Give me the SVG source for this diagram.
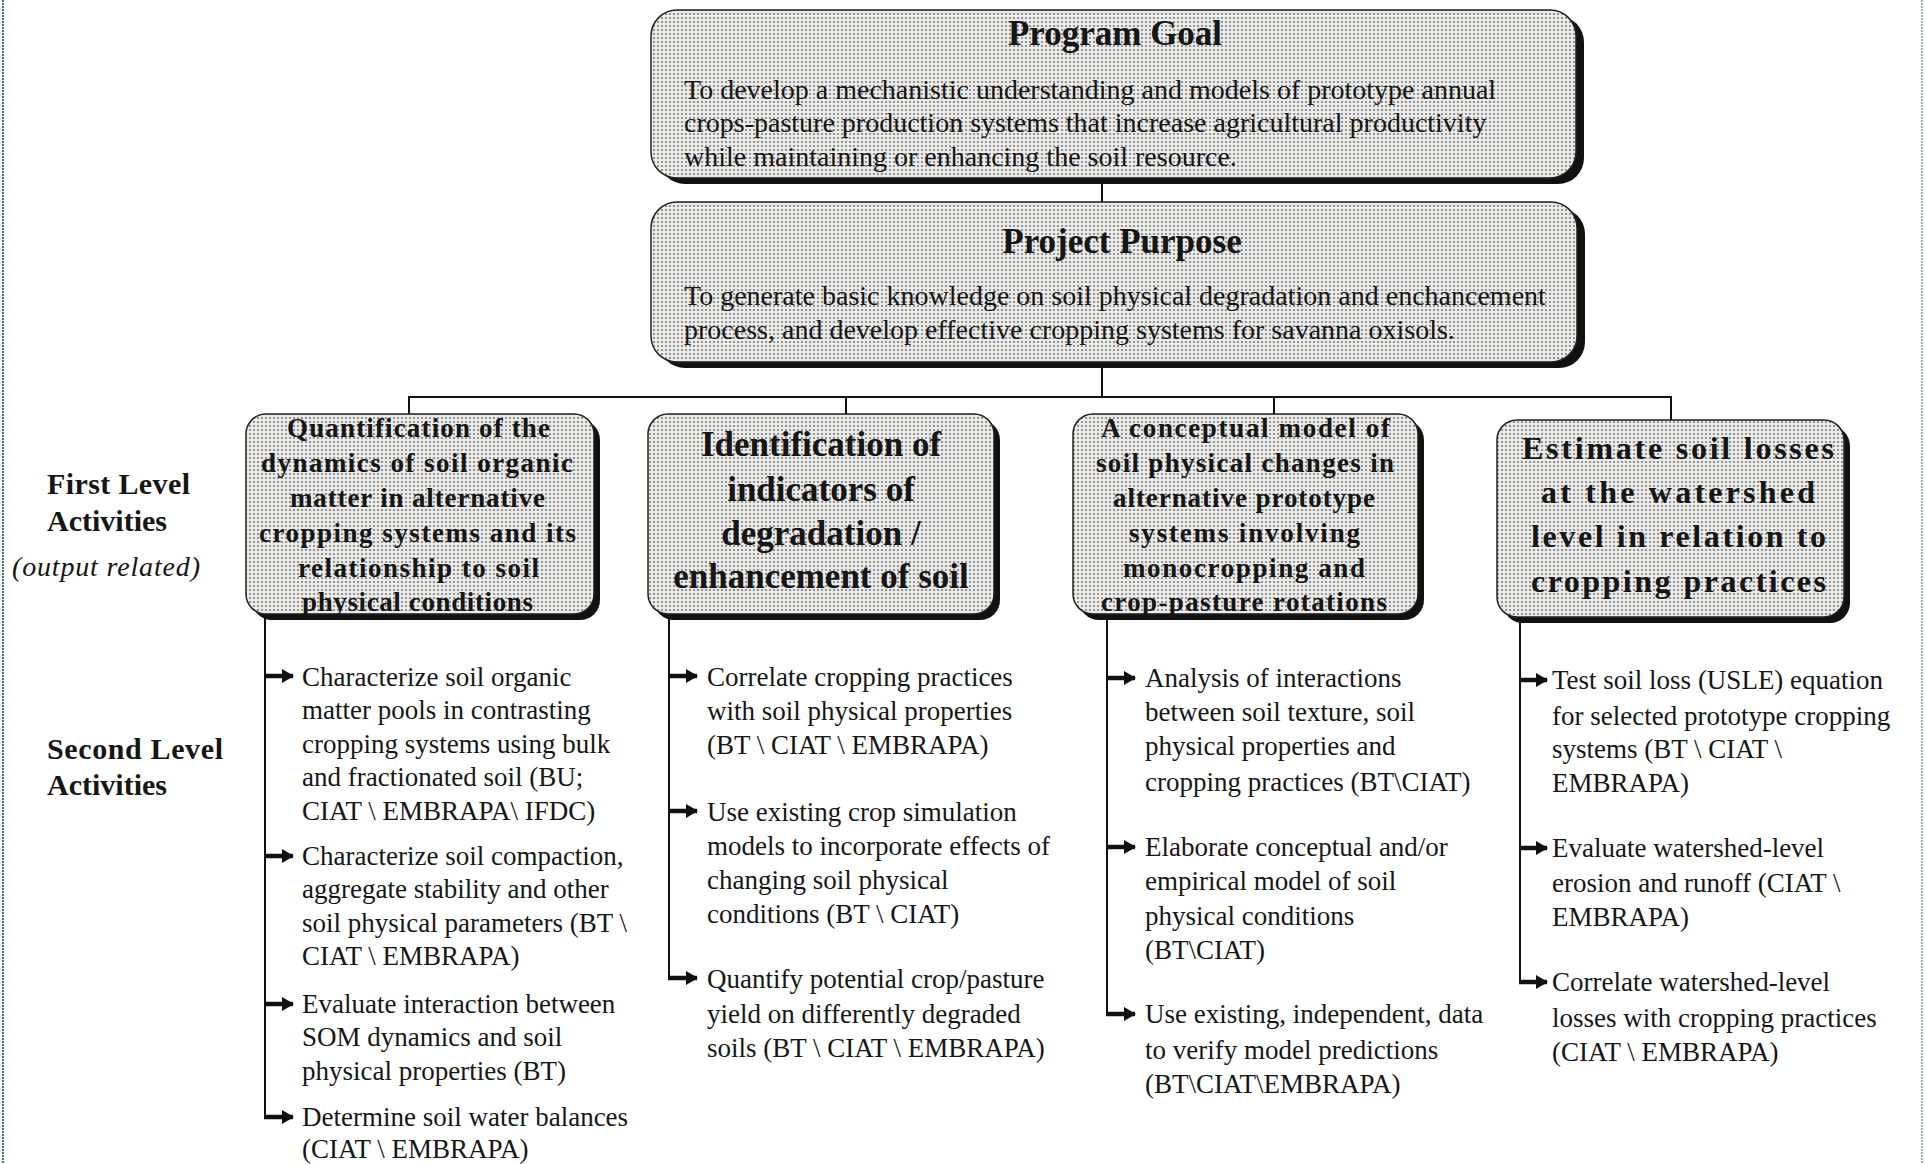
<svg xmlns="http://www.w3.org/2000/svg" width="1925" height="1164" viewBox="0 0 1925 1164">
<defs>
<pattern id="dots" width="4" height="4" patternUnits="userSpaceOnUse">
<rect width="4" height="4" fill="#ebebe9"/>
<circle cx="2" cy="2" r="1.1" fill="#808080"/>
</pattern>
<marker id="arr" viewBox="0 0 12 14" refX="11" refY="7" markerWidth="12" markerHeight="14" markerUnits="userSpaceOnUse" orient="auto">
<path d="M0,0 L12,7 L0,14 Z" fill="#111"/>
</marker>
</defs>
<style>
.shadow{fill:#111}
.box{fill:url(#dots);stroke:#222;stroke-width:1.5}
.t{font-family:"Liberation Serif","Times New Roman",serif;fill:#161616}
.title{font-size:35px;font-weight:bold}
.body{font-size:28px}
.fl{font-size:27px;font-weight:bold}
.big{font-size:35px;font-weight:bold}
.big4{font-size:32px;font-weight:bold}
.lab{font-size:30px;font-weight:bold}
.labi{font-size:28px;font-style:italic}
.item{font-size:27px}
.line{stroke:#111;stroke-width:2;fill:none}
.arr{stroke:#111;stroke-width:4.5;fill:none}
.edge{stroke:#3d7a5c;stroke-width:2;stroke-dasharray:2 1;fill:none}
</style>
<rect width="1925" height="1164" fill="#ffffff"/>
<line class="edge" x1="3" y1="0" x2="3" y2="1164"/>
<line class="edge" x1="1922" y1="0" x2="1922" y2="1164" stroke-opacity="0.5"/>

<g id="connectors">
<line class="line" x1="1102" y1="178" x2="1102" y2="203"/>
<line class="line" x1="1102" y1="362" x2="1102" y2="397"/>
<line class="line" x1="409" y1="397" x2="1671" y2="397"/>
<line class="line" x1="409" y1="396" x2="409" y2="415"/>
<line class="line" x1="846" y1="396" x2="846" y2="415"/>
<line class="line" x1="1274" y1="396" x2="1274" y2="415"/>
<line class="line" x1="1671" y1="396" x2="1671" y2="421"/>
<line class="line" x1="265" y1="614" x2="265" y2="1118"/>
<line class="line" x1="669" y1="614" x2="669" y2="979"/>
<line class="line" x1="1107" y1="614" x2="1107" y2="1015"/>
<line class="line" x1="1520" y1="618" x2="1520" y2="983"/>
<g>
<line class="arr" x1="264" y1="676" x2="293" y2="676" marker-end="url(#arr)"/>
<line class="arr" x1="264" y1="856" x2="293" y2="856" marker-end="url(#arr)"/>
<line class="arr" x1="264" y1="1004" x2="293" y2="1004" marker-end="url(#arr)"/>
<line class="arr" x1="264" y1="1117" x2="293" y2="1117" marker-end="url(#arr)"/>
<line class="arr" x1="668" y1="676" x2="697" y2="676" marker-end="url(#arr)"/>
<line class="arr" x1="668" y1="811" x2="697" y2="811" marker-end="url(#arr)"/>
<line class="arr" x1="668" y1="978" x2="697" y2="978" marker-end="url(#arr)"/>
<line class="arr" x1="1106" y1="678" x2="1135" y2="678" marker-end="url(#arr)"/>
<line class="arr" x1="1106" y1="847" x2="1135" y2="847" marker-end="url(#arr)"/>
<line class="arr" x1="1106" y1="1014" x2="1135" y2="1014" marker-end="url(#arr)"/>
<line class="arr" x1="1519" y1="680" x2="1547" y2="680" marker-end="url(#arr)"/>
<line class="arr" x1="1519" y1="848" x2="1547" y2="848" marker-end="url(#arr)"/>
<line class="arr" x1="1519" y1="982" x2="1547" y2="982" marker-end="url(#arr)"/>
</g>
</g>

<g id="program-goal">
<rect class="shadow" x="659" y="16" width="925" height="168" rx="26"/>
<rect class="box" x="651" y="10" width="925" height="168" rx="26"/>
<text class="t title" x="1115" y="45" text-anchor="middle">Program Goal</text>
<text class="t body" x="684" y="99">To develop a mechanistic understanding and models of prototype annual</text>
<text class="t body" x="684" y="132">crops-pasture production systems that increase agricultural productivity</text>
<text class="t body" x="684" y="166">while maintaining or enhancing the soil resource.</text>
</g>

<g id="project-purpose">
<rect class="shadow" x="659" y="208" width="926" height="160" rx="26"/>
<rect class="box" x="651" y="202" width="926" height="160" rx="26"/>
<text class="t title" x="1122" y="253" text-anchor="middle">Project Purpose</text>
<text class="t body" x="684" y="305">To generate basic knowledge on soil physical degradation and enchancement</text>
<text class="t body" x="684" y="339">process, and develop effective cropping systems for savanna oxisols.</text>
</g>

<g id="label-first-level">
<text class="t lab" x="47" y="494" textLength="143" lengthAdjust="spacing">First Level</text>
<text class="t lab" x="47" y="531">Activities</text>
<text class="t labi" x="12" y="576" textLength="188" lengthAdjust="spacing">(output related)</text>
</g>

<g id="label-second-level">
<text class="t lab" x="47" y="759" textLength="176" lengthAdjust="spacing">Second Level</text>
<text class="t lab" x="47" y="795">Activities</text>
</g>

<g id="activity-1">
<rect class="shadow" x="252" y="420" width="348" height="200" rx="20"/>
<rect class="box" x="246" y="414" width="348" height="200" rx="20"/>
<text class="t fl" x="287" y="437" textLength="263" lengthAdjust="spacing">Quantification of the</text>
<text class="t fl" x="261" y="472" textLength="312" lengthAdjust="spacing">dynamics of soil organic</text>
<text class="t fl" x="290" y="507" textLength="255" lengthAdjust="spacing">matter in alternative</text>
<text class="t fl" x="259" y="542" textLength="317" lengthAdjust="spacing">cropping systems and its</text>
<text class="t fl" x="298" y="577" textLength="241" lengthAdjust="spacing">relationship to soil</text>
<text class="t fl" x="302" y="611" textLength="231" lengthAdjust="spacing">physical conditions</text>
</g>

<g id="activity-2">
<rect class="shadow" x="654" y="420" width="346" height="200" rx="20"/>
<rect class="box" x="648" y="414" width="346" height="200" rx="20"/>
<text class="t big" x="821" y="456" text-anchor="middle">Identification of</text>
<text class="t big" x="821" y="501" text-anchor="middle">indicators of</text>
<text class="t big" x="821" y="545" text-anchor="middle">degradation /</text>
<text class="t big" x="821" y="588" text-anchor="middle">enhancement of soil</text>
</g>

<g id="activity-3">
<rect class="shadow" x="1079" y="420" width="345" height="200" rx="20"/>
<rect class="box" x="1073" y="414" width="345" height="200" rx="20"/>
<text class="t fl" x="1101" y="437" textLength="289" lengthAdjust="spacing">A conceptual model of</text>
<text class="t fl" x="1096" y="472" textLength="298" lengthAdjust="spacing">soil physical changes in</text>
<text class="t fl" x="1113" y="507" textLength="262" lengthAdjust="spacing">alternative prototype</text>
<text class="t fl" x="1129" y="542" textLength="231" lengthAdjust="spacing">systems involving</text>
<text class="t fl" x="1123" y="577" textLength="242" lengthAdjust="spacing">monocropping and</text>
<text class="t fl" x="1101" y="611" textLength="286" lengthAdjust="spacing">crop-pasture rotations</text>
</g>

<g id="activity-4">
<rect class="shadow" x="1503" y="426" width="347" height="197" rx="20"/>
<rect class="box" x="1497" y="420" width="347" height="197" rx="20"/>
<text class="t big4" x="1522" y="459" textLength="312" lengthAdjust="spacing">Estimate soil losses</text>
<text class="t big4" x="1541" y="503" textLength="274" lengthAdjust="spacing">at the watershed</text>
<text class="t big4" x="1531" y="547" textLength="295" lengthAdjust="spacing">level in relation to</text>
<text class="t big4" x="1531" y="592" textLength="295" lengthAdjust="spacing">cropping practices</text>
</g>

<g id="sub-1">
<text class="t item" x="302" y="686">Characterize soil organic</text>
<text class="t item" x="302" y="719">matter pools in contrasting</text>
<text class="t item" x="302" y="753">cropping systems using bulk</text>
<text class="t item" x="302" y="786">and fractionated soil (BU;</text>
<text class="t item" x="302" y="820">CIAT \ EMBRAPA\ IFDC)</text>
<text class="t item" x="302" y="865">Characterize soil compaction,</text>
<text class="t item" x="302" y="898">aggregate stability and other</text>
<text class="t item" x="302" y="932">soil physical parameters (BT \</text>
<text class="t item" x="302" y="965">CIAT \ EMBRAPA)</text>
<text class="t item" x="302" y="1013">Evaluate interaction between</text>
<text class="t item" x="302" y="1046">SOM dynamics and soil</text>
<text class="t item" x="302" y="1080">physical properties (BT)</text>
<text class="t item" x="302" y="1126">Determine soil water balances</text>
<text class="t item" x="302" y="1158">(CIAT \ EMBRAPA)</text>
</g>

<g id="sub-2">
<text class="t item" x="707" y="686">Correlate cropping practices</text>
<text class="t item" x="707" y="720">with soil physical properties</text>
<text class="t item" x="707" y="754">(BT \ CIAT \ EMBRAPA)</text>
<text class="t item" x="707" y="821">Use existing crop simulation</text>
<text class="t item" x="707" y="855">models to incorporate effects of</text>
<text class="t item" x="707" y="889">changing soil physical</text>
<text class="t item" x="707" y="923">conditions (BT \ CIAT)</text>
<text class="t item" x="707" y="988">Quantify potential crop/pasture</text>
<text class="t item" x="707" y="1023">yield on differently degraded</text>
<text class="t item" x="707" y="1057">soils (BT \ CIAT \ EMBRAPA)</text>
</g>

<g id="sub-3">
<text class="t item" x="1145" y="687">Analysis of interactions</text>
<text class="t item" x="1145" y="721">between soil texture, soil</text>
<text class="t item" x="1145" y="755">physical properties and</text>
<text class="t item" x="1145" y="791">cropping practices (BT\CIAT)</text>
<text class="t item" x="1145" y="856">Elaborate conceptual and/or</text>
<text class="t item" x="1145" y="890">empirical model of soil</text>
<text class="t item" x="1145" y="925">physical conditions</text>
<text class="t item" x="1145" y="959">(BT\CIAT)</text>
<text class="t item" x="1145" y="1023">Use existing, independent, data</text>
<text class="t item" x="1145" y="1059">to verify model predictions</text>
<text class="t item" x="1145" y="1093">(BT\CIAT\EMBRAPA)</text>
</g>

<g id="sub-4">
<text class="t item" x="1552" y="689">Test soil loss (USLE) equation</text>
<text class="t item" x="1552" y="725">for selected prototype cropping</text>
<text class="t item" x="1552" y="758">systems (BT \ CIAT \</text>
<text class="t item" x="1552" y="792">EMBRAPA)</text>
<text class="t item" x="1552" y="857">Evaluate watershed-level</text>
<text class="t item" x="1552" y="892">erosion and runoff (CIAT \</text>
<text class="t item" x="1552" y="926">EMBRAPA)</text>
<text class="t item" x="1552" y="991">Correlate watershed-level</text>
<text class="t item" x="1552" y="1027">losses with cropping practices</text>
<text class="t item" x="1552" y="1061">(CIAT \ EMBRAPA)</text>
</g>
</svg>
